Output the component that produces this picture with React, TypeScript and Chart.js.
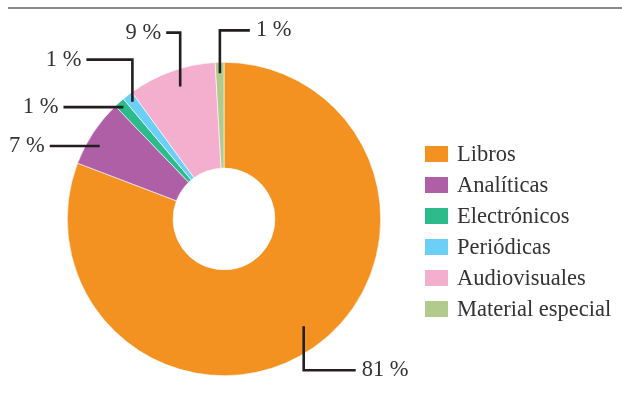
import { useEffect, useRef } from "react";
import { Chart, registerables } from "chart.js";

Chart.register(...registerables);

const categories = ["Libros", "Analíticas", "Electrónicos", "Periódicas", "Audiovisuales", "Material especial"];
const shares = [80.8, 7.0, 1.1, 1.1, 9.1, 0.9];
const percentLabels = ["81 %", "7 %", "1 %", "1 %", "9 %", "1 %"];
const sliceColors = ["#F39121", "#AF5FA5", "#2EBB8B", "#6CCFF6", "#F4AECE", "#B2CA8E"];

// leader line layout (annotation styling, not data)
const leaderAt = [0.493, 0.38, 0.5, 0.5, 0.54, 0.5];
const leaderRadius = [0.853, 0.92, 0.96, 0.95, 0.89, 0.93];
const leaderRise = [44, 0, 0, -42, -54, -43];
const leaderRun = [52, -50, -60, -46, -14, 30];

const FONT = '"Liberation Serif", "Times New Roman", serif';
const TEXT_COLOR = "#333333";

const decorPlugin = {
  id: "decor",
  beforeDraw(chart: any) {
    const ctx = chart.ctx;
    ctx.save();
    ctx.strokeStyle = "#8a8a8a";
    ctx.lineWidth = 2;
    ctx.beginPath();
    ctx.moveTo(8, 8);
    ctx.lineTo(chart.width, 8);
    ctx.stroke();
    ctx.restore();
  },
  afterDraw(chart: any) {
    const ctx = chart.ctx;
    const meta = chart.getDatasetMeta(0);
    ctx.save();
    ctx.strokeStyle = "#231F20";
    ctx.lineWidth = 2.6;
    ctx.font = `22.5px ${FONT}`;
    ctx.fillStyle = TEXT_COLOR;
    ctx.textBaseline = "middle";
    meta.data.forEach((arc: any, i: number) => {
      const p = arc.getProps(["x", "y", "startAngle", "endAngle", "outerRadius"], true);
      const ang = p.startAngle + (p.endAngle - p.startAngle) * leaderAt[i];
      const r = p.outerRadius * leaderRadius[i];
      const ax = p.x + Math.cos(ang) * r;
      const ay = p.y + Math.sin(ang) * r;
      const ey = ay + leaderRise[i];
      const ex = ax + leaderRun[i];
      ctx.beginPath();
      ctx.moveTo(ax, ay);
      ctx.lineTo(ax, ey);
      ctx.lineTo(ex, ey);
      ctx.stroke();
      if (leaderRun[i] > 0) {
        ctx.textAlign = "left";
        ctx.fillText(percentLabels[i], ex + 6, ey);
      } else {
        ctx.textAlign = "right";
        ctx.fillText(percentLabels[i], ex - 5, ey);
      }
    });
    const boxX = 425;
    const top = 154;
    const step = 31;
    ctx.textAlign = "left";
    categories.forEach((c, i) => {
      const cy = top + i * step;
      ctx.fillStyle = sliceColors[i];
      ctx.fillRect(boxX, cy - 8, 23, 16);
      ctx.fillStyle = TEXT_COLOR;
      ctx.fillText(c, 457, cy + 1);
    });
    ctx.restore();
  },
};

export default function App() {
  const ref = useRef<HTMLCanvasElement | null>(null);
  useEffect(() => {
    if (!ref.current) return;
    const chart = new Chart(ref.current, {
      type: "doughnut",
      data: {
        labels: categories,
        datasets: [
          {
            data: shares,
            backgroundColor: sliceColors,
            borderColor: "#ffffff",
            borderWidth: 0.6,
          },
        ],
      },
      options: {
        responsive: false,
        animation: false,
        devicePixelRatio: 1,
        cutout: "32.5%",
        layout: { padding: { left: 67, right: 241, top: 62, bottom: 26 } },
        plugins: {
          legend: { display: false },
          tooltip: { enabled: false },
        },
      },
      plugins: [decorPlugin],
    });
    return () => chart.destroy();
  }, []);
  return (
    <div style={{ position: "fixed", left: 0, top: 0, width: 622, height: 402, background: "#fff" }}>
      <canvas ref={ref} width={622} height={402} style={{ width: 622, height: 402, display: "block" }} />
    </div>
  );
}
